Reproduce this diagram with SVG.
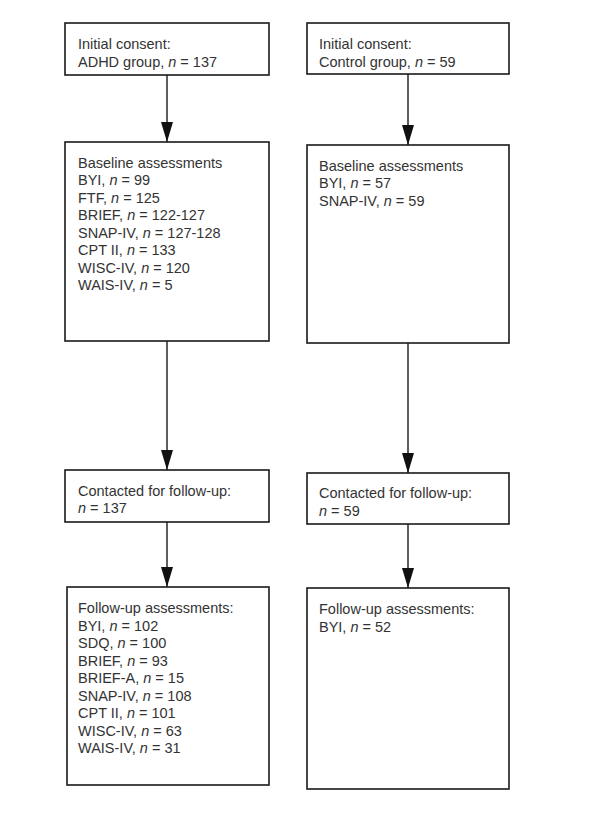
<svg xmlns="http://www.w3.org/2000/svg" width="595" height="820" viewBox="0 0 595 820">
<defs>
<style>
.box{fill:#fff;stroke:#1a1a1a;stroke-width:1.6}
.t{font-family:"Liberation Sans",Arial,sans-serif;font-size:14.5px;fill:#333}
.i{font-style:italic}
.c{stroke:#1a1a1a;stroke-width:1.4;fill:none}
</style>
<marker id="ah" viewBox="0 0 20 12" refX="20" refY="6" markerWidth="20" markerHeight="12" markerUnits="userSpaceOnUse" orient="auto">
<path d="M0,0 L20,6 L0,12 z" fill="#111"/>
</marker>
</defs>
<rect width="595" height="820" fill="#fff"/>
<g id="connectors">
<line class="c" x1="167" y1="75" x2="167" y2="142" marker-end="url(#ah)"/>
<line class="c" x1="167" y1="341" x2="167" y2="470" marker-end="url(#ah)"/>
<line class="c" x1="167" y1="522" x2="167" y2="587" marker-end="url(#ah)"/>
<line class="c" x1="408" y1="74" x2="408" y2="145" marker-end="url(#ah)"/>
<line class="c" x1="408" y1="343" x2="408" y2="473" marker-end="url(#ah)"/>
<line class="c" x1="408" y1="524" x2="408" y2="588" marker-end="url(#ah)"/>
</g>
<g id="adhd-consent">
<rect class="box" x="65" y="23" width="204" height="52"/>
<text class="t" x="78" y="49">Initial consent:</text>
<text class="t" x="78" y="66.7">ADHD group, <tspan class="i">n</tspan> = 137</text>
</g>
<g id="adhd-baseline">
<rect class="box" x="65" y="142" width="204" height="199"/>
<text class="t" x="78" y="167.7">Baseline assessments</text>
<text class="t" x="78" y="185.2">BYI, <tspan class="i">n</tspan> = 99</text>
<text class="t" x="78" y="202.7">FTF, <tspan class="i">n</tspan> = 125</text>
<text class="t" x="78" y="220.2">BRIEF, <tspan class="i">n</tspan> =  122-127</text>
<text class="t" x="78" y="237.7">SNAP-IV, <tspan class="i">n</tspan> = 127-128</text>
<text class="t" x="78" y="255.2">CPT II, <tspan class="i">n</tspan> = 133</text>
<text class="t" x="78" y="272.7">WISC-IV, <tspan class="i">n</tspan> =  120</text>
<text class="t" x="78" y="290.2">WAIS-IV, <tspan class="i">n</tspan> = 5</text>
</g>
<g id="adhd-contacted">
<rect class="box" x="65" y="470" width="204" height="52"/>
<text class="t" x="78" y="495.7">Contacted for follow-up:</text>
<text class="t" x="78" y="512.7"><tspan class="i">n</tspan> = 137</text>
</g>
<g id="adhd-followup">
<rect class="box" x="67" y="587" width="202" height="198"/>
<text class="t" x="78" y="613.3">Follow-up assessments:</text>
<text class="t" x="78" y="630.7">BYI, <tspan class="i">n</tspan> = 102</text>
<text class="t" x="78" y="648.3">SDQ, <tspan class="i">n</tspan> = 100</text>
<text class="t" x="78" y="666">BRIEF, <tspan class="i">n</tspan> = 93</text>
<text class="t" x="78" y="683.3">BRIEF-A, <tspan class="i">n</tspan> = 15</text>
<text class="t" x="78" y="701">SNAP-IV, <tspan class="i">n</tspan> = 108</text>
<text class="t" x="78" y="718.3">CPT II, <tspan class="i">n</tspan> = 101</text>
<text class="t" x="78" y="735.7">WISC-IV, <tspan class="i">n</tspan> = 63</text>
<text class="t" x="78" y="753.3">WAIS-IV, <tspan class="i">n</tspan> = 31</text>
</g>
<g id="control-consent">
<rect class="box" x="307" y="23" width="202" height="51"/>
<text class="t" x="319" y="49">Initial consent:</text>
<text class="t" x="319" y="66.7">Control group, <tspan class="i">n</tspan> = 59</text>
</g>
<g id="control-baseline">
<rect class="box" x="307" y="145" width="202" height="198"/>
<text class="t" x="319" y="171">Baseline assessments</text>
<text class="t" x="319" y="188.3">BYI, <tspan class="i">n</tspan> = 57</text>
<text class="t" x="319" y="205.7">SNAP-IV, <tspan class="i">n</tspan> = 59</text>
</g>
<g id="control-contacted">
<rect class="box" x="307" y="473" width="202" height="51"/>
<text class="t" x="319" y="498.3">Contacted for follow-up:</text>
<text class="t" x="319" y="515.7"><tspan class="i">n</tspan> = 59</text>
</g>
<g id="control-followup">
<rect class="box" x="307" y="588" width="202" height="201"/>
<text class="t" x="319" y="614">Follow-up assessments:</text>
<text class="t" x="319" y="631.7">BYI, <tspan class="i">n</tspan> = 52</text>
</g>
</svg>
